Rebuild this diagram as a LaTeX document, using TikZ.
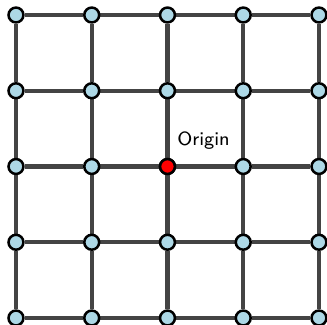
\documentclass[tikz,border=0pt]{standalone}
\usepackage{tikz}
\usetikzlibrary{positioning,backgrounds}
\definecolor{gridline}{RGB}{68,68,68}
\definecolor{ptfill}{RGB}{173,216,230}
\definecolor{origred}{RGB}{255,0,0}

\begin{document}
\begin{tikzpicture}[
  pt/.style={circle, draw=black, line width=0.95pt, fill=ptfill, minimum size=5.6pt, inner sep=0pt},
  orig/.style={pt, fill=origred},
  link/.style={line width=1.6pt, gridline},
  olbl/.style={font=\sffamily\fontsize{7.2}{8}\selectfont, text=black, inner sep=0pt},
]
\useasboundingbox (-0.211,-0.092) rectangle (4.106,4.198);

% ============ points ============
\foreach \i in {0,...,4}
  \foreach \j in {0,...,4}
    \node[pt] (p\i\j) at (\i,\j) {};
\node[orig] (p22) at (2,2) {};
\node[olbl] (olab) at (2.476,2.343) {Origin};

% ============ links ============
\begin{scope}[on background layer]
\foreach \i in {0,...,4}
  \foreach \j [count=\k from 1] in {0,...,3} {
    \draw[link] (p\i\j)--(p\i\k);
    \draw[link] (p\j\i)--(p\k\i);
  }
\end{scope}
\end{tikzpicture}
\end{document}
